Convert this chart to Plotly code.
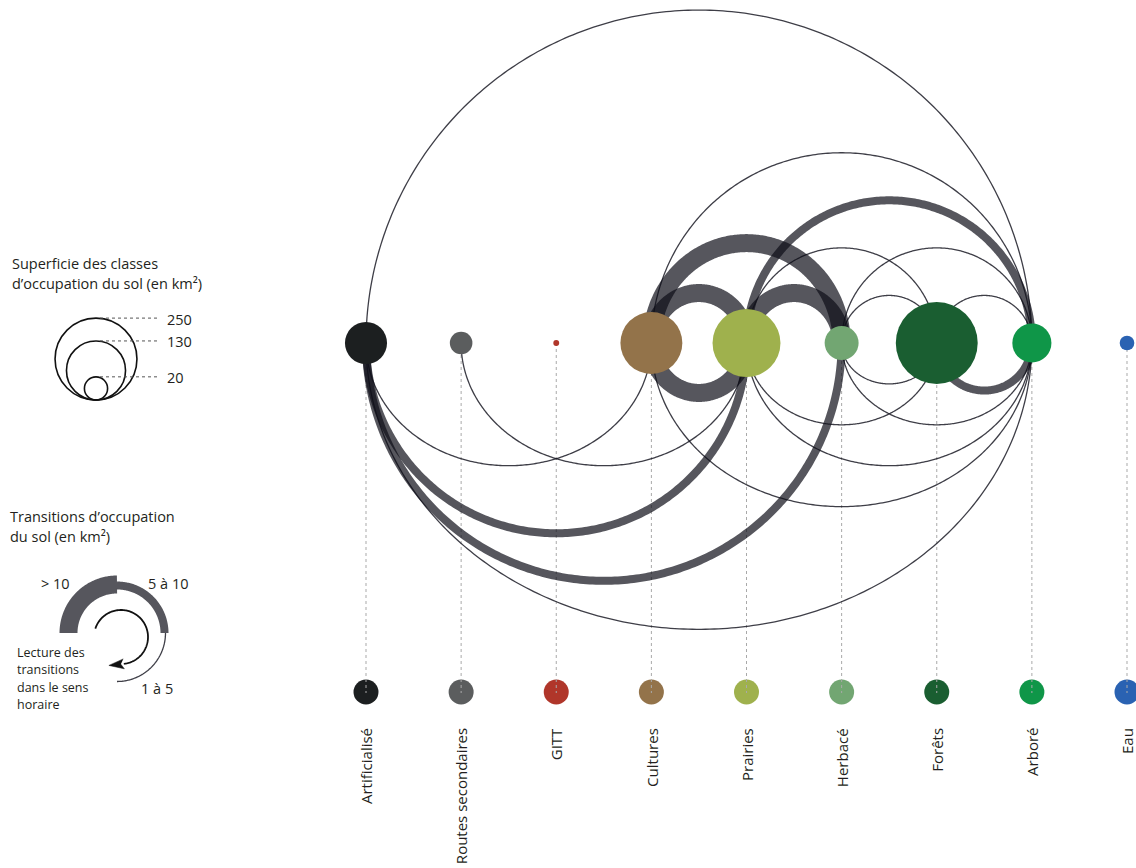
import numpy as np
import plotly.graph_objects as go

# ---------------- data ----------------
categories = ["Artificialisé", "Routes secondaires", "GITT", "Cultures", "Prairies",
              "Herbacé", "Forêts", "Arboré", "Eau"]
areas_km2 = [66, 19, 1.3, 143, 172, 43, 250, 57, 8]
node_colors = ["#1c1f20", "#5b5d5e", "#b0362a", "#93734a", "#9fb14d",
               "#72a672", "#1a5e31", "#0f9648", "#2a62b2"]

# transitions (source -> target, km²); clockwise reading
trans_source = ["Artificialisé", "Cultures", "Prairies", "Cultures", "Cultures", "Prairies",
                "Prairies", "Herbacé", "Herbacé", "Forêts",
                "Cultures", "Prairies", "Prairies", "Herbacé", "Arboré", "Arboré",
                "Prairies", "Forêts", "Forêts", "Arboré", "Arboré", "Arboré"]
trans_target = ["Arboré", "Arboré", "Arboré", "Herbacé", "Prairies", "Herbacé",
                "Forêts", "Arboré", "Forêts", "Arboré",
                "Artificialisé", "Routes secondaires", "Artificialisé", "Artificialisé",
                "Artificialisé", "Cultures", "Cultures", "Prairies", "Herbacé",
                "Herbacé", "Prairies", "Forêts"]
trans_value = [2, 3, 7, 14, 15, 13, 2, 3, 2, 2,
               3, 2, 8, 7, 2, 2, 16, 2, 2, 2, 3, 6]

size_legend_values = [250, 130, 20]
class_labels = ["> 10", "5 à 10", "1 à 5"]

# ---------------- scales / layout ----------------
W, H = 1136, 868
STEP = 95.125          # px per category step (x and y share the unit)
X0_PX, ROW_PX = 366, 343
xmin = -X0_PX / STEP
xmax = xmin + W / STEP
ymax = ROW_PX / STEP
ymin = ymax - H / STEP


def X(px):
    return xmin + px / STEP


def Y(py):
    return ymax - py / STEP


R_K = 2.59  # px of radius per sqrt(km²)


def radius_px(a):
    return R_K * np.sqrt(a)


FONT = "Open Sans"
TXT = "#231f20"
ARC_COL = "rgba(14,14,24,0.70)"
THIN_COL = "rgba(20,20,30,0.82)"

style = {
    "thick": dict(w=18, up=1.05, down=1.05, col=ARC_COL),
    "med": dict(w=8, up=1.0, down=1.0, col=ARC_COL),
    "thin": dict(w=1.3, up=1.0, down=0.86, col=THIN_COL),
}


def vclass(v):
    return "thick" if v > 10 else ("med" if v >= 5 else "thin")


idx = {c: i for i, c in enumerate(categories)}
fig = go.Figure()

# legend dots (bottom row)
LEG_Y = 692
fig.add_trace(go.Scatter(x=list(range(len(categories))), y=[Y(LEG_Y)] * len(categories),
                         mode="markers",
                         marker=dict(size=25, color=node_colors, line=dict(width=0)),
                         hoverinfo="skip"))

# dotted guide lines
gx, gy = [], []
for i in range(len(categories)):
    gx += [i, i, None]
    gy += [0, Y(LEG_Y + 1), None]
fig.add_trace(go.Scatter(x=gx, y=gy, mode="lines",
                         line=dict(color="#a9a9a9", width=1, dash="dot"), hoverinfo="skip"))

# arcs
order = sorted(range(len(trans_value)), key=lambda k: trans_value[k])
for k in order:
    s, t, v = idx[trans_source[k]], idx[trans_target[k]], trans_value[k]
    st = style[vclass(v)]
    cx = (s + t) / 2
    hw = abs(t - s) / 2
    th = np.linspace(np.pi, 0, 240)
    if s < t:
        ys = st["up"] * hw * np.sin(th)
    else:
        ys = -st["down"] * hw * np.sin(th)
    xs = cx + hw * np.cos(th)
    fig.add_trace(go.Scatter(x=xs, y=ys, mode="lines",
                             line=dict(color=st["col"], width=st["w"], simplify=False),
                             hoverinfo="skip"))

# nodes
fig.add_trace(go.Scatter(x=list(range(len(categories))), y=[0] * len(categories),
                         mode="markers",
                         marker=dict(size=[2 * radius_px(a) for a in areas_km2],
                                     color=node_colors, line=dict(width=0), opacity=1),
                         text=categories, hoverinfo="text"))

annotations = []
# category labels (rotated)
for i, c in enumerate(categories):
    annotations.append(dict(x=i, y=Y(726), text=c, textangle=-90, showarrow=False,
                            xanchor="center", yanchor="top",
                            font=dict(family=FONT, size=15, color=TXT)))

# ---------------- size legend ----------------
for j, line in enumerate(["Superficie des classes", "d’occupation du sol (en km²)"]):
    annotations.append(dict(x=X(10), y=Y(263 + 20 * j), text=line, showarrow=False,
                            xanchor="left", yanchor="middle",
                            font=dict(family=FONT, size=14.5, color=TXT)))

shapes = []
LCX, LBOT = 96, 400
for v in size_legend_values:
    r = radius_px(v)
    cy = LBOT - r
    shapes.append(dict(type="circle", xref="x", yref="y",
                       x0=X(LCX - r), x1=X(LCX + r), y0=Y(cy + r), y1=Y(cy - r),
                       line=dict(color="#111111", width=1.6)))
    top = cy - r
    shapes.append(dict(type="line", xref="x", yref="y", x0=X(LCX + 4), x1=X(157),
                       y0=Y(top), y1=Y(top),
                       line=dict(color="#555555", width=1, dash="dot")))
    annotations.append(dict(x=X(165), y=Y(top + 1), text=str(v), showarrow=False,
                            xanchor="left", yanchor="middle",
                            font=dict(family=FONT, size=14.5, color=TXT)))

# ---------------- transitions legend ----------------
for j, line in enumerate(["Transitions d’occupation", "du sol (en km²)"]):
    annotations.append(dict(x=X(8), y=Y(516 + 20 * j), text=line, showarrow=False,
                            xanchor="left", yanchor="middle",
                            font=dict(family=FONT, size=14.5, color=TXT)))

TCX, TCY = 117, 633
leg_arcs = [("thick", 48.5, 180, 90), ("med", 47.5, 90, 0), ("thin", 48.5, 0, -90)]
for cls, r, a0, a1 in leg_arcs:
    ang = np.radians(np.linspace(a0, a1, 90))
    fig.add_trace(go.Scatter(x=X(TCX) + r / STEP * np.cos(ang),
                             y=Y(TCY) + r / STEP * np.sin(ang), mode="lines",
                             line=dict(color=style[cls]["col"], width=style[cls]["w"],
                                       simplify=False),
                             hoverinfo="skip"))

# clockwise reading arrow
ACX, ACY, AR = 121, 637, 27
ang = np.radians(np.linspace(162, -84, 120))
fig.add_trace(go.Scatter(x=X(ACX) + AR / STEP * np.cos(ang),
                         y=Y(ACY) + AR / STEP * np.sin(ang), mode="lines",
                         line=dict(color="#111111", width=1.8, simplify=False),
                         hoverinfo="skip"))
ea = np.radians(-84)
ex, ey = ACX + AR * np.cos(ea), ACY - AR * np.sin(ea)
dx, dy = np.sin(ea), np.cos(ea)  # screen direction (clockwise tangent)
nrm = np.hypot(dx, dy)
dx, dy = dx / nrm, dy / nrm
tipx, tipy = ex + 15 * dx, ey + 15 * dy
px_, py_ = -dy, dx
back = [(ex + 5 * px_, ey + 5 * py_), (tipx, tipy), (ex - 5 * px_, ey - 5 * py_),
        (ex + 3 * dx, ey + 3 * dy)]
fig.add_trace(go.Scatter(x=[X(p[0]) for p in back], y=[Y(p[1]) for p in back],
                         mode="lines", fill="toself", fillcolor="#111111",
                         line=dict(color="#111111", width=0.5), hoverinfo="skip"))

annotations.append(dict(x=X(55), y=Y(583), text=class_labels[0], showarrow=False,
                        xanchor="center", yanchor="middle",
                        font=dict(family=FONT, size=14.5, color=TXT)))
annotations.append(dict(x=X(168), y=Y(583), text=class_labels[1], showarrow=False,
                        xanchor="center", yanchor="middle",
                        font=dict(family=FONT, size=14.5, color=TXT)))
annotations.append(dict(x=X(157), y=Y(688), text=class_labels[2], showarrow=False,
                        xanchor="center", yanchor="middle",
                        font=dict(family=FONT, size=14.5, color=TXT)))
for j, line in enumerate(["Lecture des", "transitions", "dans le sens", "horaire"]):
    annotations.append(dict(x=X(15), y=Y(652 + 17.5 * j), text=line, showarrow=False,
                            xanchor="left", yanchor="middle",
                            font=dict(family=FONT, size=12.5, color=TXT)))

fig.update_layout(
    width=W, height=H, margin=dict(l=0, r=0, t=0, b=0),
    paper_bgcolor="white", plot_bgcolor="white", showlegend=False,
    xaxis=dict(range=[xmin, xmax], visible=False, fixedrange=True),
    yaxis=dict(range=[ymin, ymax], visible=False, fixedrange=True),
    shapes=shapes, annotations=annotations, hovermode="closest",
)

fig.write_html("out.html", config={"displayModeBar": False},
               post_script="document.body.style.margin='0px';document.body.style.padding='0px';")
